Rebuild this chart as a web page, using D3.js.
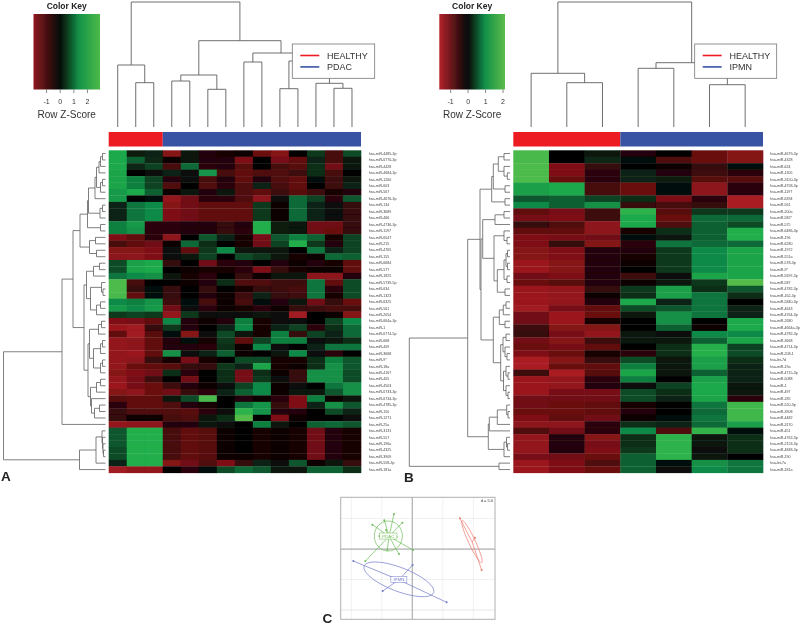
<!DOCTYPE html>
<html>
<head>
<meta charset="utf-8">
<style>
  html, body { margin: 0; padding: 0; background: #fff; }
  svg { display: block; font-family: "Liberation Sans", Arial, sans-serif; }
</style>
<script src="https://cdn.jsdelivr.net/npm/d3@7"></script>
</head>
<body>
<script>
// row labels, top to bottom
var labelsA = ['hsa-miR-4485-3p','hsa-miR-6770-3p','hsa-miR-4428','hsa-miR-4684-3p','hsa-miR-1260','hsa-miR-603','hsa-miR-567','hsa-miR-4676-3p','hsa-miR-134','hsa-miR-3689','hsa-miR-466','hsa-miR-4736-3p','hsa-miR-1197','hsa-miR-6547','hsa-miR-215','hsa-miR-4765','hsa-miR-155','hsa-miR-6684','hsa-miR-577','hsa-miR-1825','hsa-miR-5739-5p','hsa-miR-634','hsa-miR-1323','hsa-miR-6325','hsa-miR-561','hsa-miR-2054','hsa-miR-664a-3p','hsa-miR-1','hsa-miR-6774-5p','hsa-miR-668','hsa-miR-409','hsa-miR-3668','hsa-miR-9*','hsa-miR-18a','hsa-miR-4167','hsa-miR-405','hsa-miR-4503','hsa-miR-6733-3p','hsa-miR-6734-3p','hsa-miR-4785-3p','hsa-miR-150','hsa-miR-1271','hsa-miR-25a','hsa-miR-3131','hsa-miR-557','hsa-miR-196a','hsa-miR-4325','hsa-miR-3909','hsa-miR-558-3p','hsa-miR-181a'];
var labelsB = ['hsa-miR-4679-3p','hsa-miR-4328','hsa-miR-624','hsa-miR-1305','hsa-miR-3150-3p','hsa-miR-4758-3p','hsa-miR-1197','hsa-miR-6394','hsa-miR-561','hsa-miR-200a','hsa-miR-582*','hsa-miR-575','hsa-miR-6486-3p','hsa-miR-196','hsa-miR-6280','hsa-miR-1972','hsa-miR-551a','hsa-miR-578-3p','hsa-miR-9*','hsa-miR-5697-3p','hsa-miR-587','hsa-miR-4782-3p','hsa-miR-162-3p','hsa-miR-5840-3p','hsa-miR-4643','hsa-miR-4764-3p','hsa-miR-2680','hsa-miR-4664a-3p','hsa-miR-4782-3p','hsa-miR-3668','hsa-miR-4714-3p','hsa-miR-208-1','hsa-let-7d','hsa-miR-19a','hsa-miR-4715-3p','hsa-miR-5088','hsa-miR-1','hsa-miR-497','hsa-miR-185','hsa-miR-520-3p','hsa-miR-3908','hsa-miR-4482','hsa-miR-3170','hsa-miR-451','hsa-miR-4762-3p','hsa-miR-2153-3p','hsa-miR-4848-3p','hsa-miR-190','hsa-let-7a','hsa-miR-181a'];

// row z-scores
var heatA = [
  [1.9,.25,.3,-1.5,.2,-.3,-.2,-.1,-1.1,-1.5,0,.5,-.7,.7],
  [1.9,.9,.35,-.1,.2,-.3,-.3,-1.4,0,-1.3,-1,.3,-.7,.2],
  [1.9,.35,.6,-.7,1,-.4,-.3,-.9,0,-.7,-.9,.4,-1.2,.2],
  [1.8,0,.1,.3,.1,1.5,-.7,-1,-.8,-.8,-.6,.4,-.7,0],
  [1.8,1.2,.6,-.3,.1,-.7,-.3,-1,-.3,-.8,-1,.05,-.6,.2],
  [1.8,1.2,.6,-.8,0,-.8,-.4,-.8,.3,-.7,-1,0,-.6,.3],
  [1.6,1.9,.9,-.05,.2,-.3,.2,-.8,-1,-.6,-.9,-.6,-.2,-.3],
  [1.6,0,.05,-1.7,-1.2,-.4,-.4,-.8,-1.6,.1,1,.6,-.4,.8],
  [.3,1.1,1.3,-1.5,-1.2,-1,-1,-1,.5,-.1,1,.3,.1,-.5],
  [.3,1.1,1.3,-1.4,-1.2,-1,-1,-1,.5,-.1,1,.3,.1,-.5],
  [.3,1.1,1.3,-1.4,-1.2,-1,-1,-1,.5,-.1,1,.3,.1,-.5],
  [1.2,1.6,-.4,-.4,-.3,-.3,-.5,-.3,2,.25,.15,-1.2,-1.2,-.5],
  [1.2,1.4,-.4,-.4,-.3,-.3,-.5,-.4,2,.25,.15,-1.2,-1.1,-.5],
  [-1.4,-1,-.4,-1.6,0,.8,.3,-.2,-1.3,.8,1.2,.9,-.2,.6],
  [-.7,-1,-1.2,-.1,1,.4,0,-.2,-1.2,.6,2,.5,-.3,.6],
  [-1.5,-1.5,-1.4,.1,-1,.5,1.3,.2,.2,.2,0,1.1,.3,.6],
  [-1.6,-1.6,-1.4,.1,.2,.6,0,.7,.5,.2,-.2,-.1,1,.9],
  [.7,1.7,1.9,-.5,0,-1.2,-.4,-.3,0,-.3,-.05,-.3,-.2,-1],
  [.7,1.8,1.9,0,-.1,-.2,-.2,-.4,-1.4,-.5,-.2,-.1,-.1,-1],
  [1.1,1.3,1.4,.2,-.2,-.4,0,-.5,-.1,.2,.2,-1.6,-1.6,-.3],
  [2.7,-.7,0,0,-.1,-.3,.4,-.8,-.8,-.6,-.6,1.1,-1,.7],
  [2.7,-.5,.05,-.5,0,-.5,0,-.2,-.5,-.6,-.7,1.1,-.4,.7],
  [2.6,-1,.05,-.5,0,-.3,-.1,-.6,.3,-.5,-.6,1.1,-.2,.7],
  [1.3,1.2,1.5,-.6,.05,-.7,-.1,-.7,.05,-.3,.2,-1.2,-.5,-1.1],
  [1.6,1.3,1.6,-1.2,.1,-.4,-.1,-.2,-.4,-.1,-.5,-.6,-.7,-.7],
  [.5,.6,.5,-1.7,.5,.1,.1,.1,.2,.1,-1.9,0,-.1,-1.5],
  [-1.4,-1.3,-1,1.3,-.3,-.1,-.3,1.2,-.2,.1,.1,0,.6,1.3],
  [-1.8,-1.9,-.5,.5,-.3,0,.3,1.3,-.2,.3,.6,-.4,.4,1],
  [-1,-1.9,-.9,.05,-1.5,.1,.7,.2,-.2,1.2,-.5,.6,.3,1],
  [-1.7,-1.6,-1,-.3,.05,-.2,.5,-1,.6,1.2,1.2,.1,.2,.4],
  [-1.7,-1.6,-1,-.3,-.3,-.4,.4,-.1,1.3,.1,0,.3,1.1,1.1],
  [-1.7,-1.8,-1,1.4,.1,.3,.9,-.1,0,.15,1.3,.1,-.4,0],
  [-1.7,-1.6,-.5,-.2,-1.3,-.2,0,.7,.7,-.2,-.2,.4,1.2,.8],
  [-1.7,-1.1,-1,-.9,-.5,-.5,.5,.3,1.8,-.2,-.1,.4,1.4,.8],
  [-1.5,-1.4,-1.2,.4,-.4,0,.4,-1.3,.4,-.1,-.5,1.4,1.4,.7],
  [-1.7,-1.3,-.6,0,-1.2,0,.4,-1.3,.5,.1,-.5,1.4,1.4,.7],
  [-1.8,-1.3,-1.1,-.6,-.3,-.1,.1,.6,1.3,-.05,.1,0,1.1,1.4],
  [-1.5,-1.6,-1.1,-1.2,-.5,-.4,.3,.9,1.3,-.05,.15,.2,.8,1.4],
  [-.9,-1,-1,.2,.7,2.6,0,-.3,-.05,-.4,-1.4,1.2,-.1,.2],
  [-.4,-1,-1,-.8,-.3,-.2,0,1.1,1.5,-.5,-1.4,.3,1.4,.8],
  [-.5,-.8,-.8,-.8,-.9,-.4,.1,2.2,1.5,-.3,-.3,0,.7,.3],
  [-.5,-.05,-.1,-.7,-.8,.2,.4,2.8,0,-1.4,-.05,0,0,.1],
  [-1.7,-1.6,-1.6,-.3,-.3,.2,.1,0,1.2,.2,0,.9,1,.8],
  [.8,2,2,-.7,-1,-.9,-.05,0,-.2,-.1,-.2,-1.2,-.3,-.2],
  [.8,2,2,-.7,-1,-.9,-.05,0,-.2,-.1,-.2,-1.2,-.3,-.2],
  [.8,2,2,-.7,-1,-.9,-.05,0,-.2,-.1,-.2,-1.2,-.3,-.2],
  [.7,2,2,-.7,-1,-.9,-.05,0,-.2,-.1,-.2,-1.2,-.3,-.2],
  [.7,2,2,-.7,-1,-.9,-.1,-.05,-.2,-.1,-.2,-1.2,-.3,-.2],
  [.3,2,2,-1.5,-1.2,-.8,-1.4,-.5,.3,.1,.8,-.1,.2,-.5],
  [-1.9,-1.7,-1.7,0,-.4,.05,.7,1,.8,.2,.2,.9,.9,.4]
];
var heatB = [
  [2.6,0,.2,-.3,0,-1.1,-1.5],
  [2.6,0,.35,.05,-.8,-1.1,-1.5],
  [2.7,-1.4,-.5,0,-.05,-.5,.05],
  [2.7,-1.4,-.4,.3,-.3,-.6,-.4],
  [2.7,-1.1,-.4,.3,.25,-.9,-.9],
  [1.7,1.9,-.7,-1.1,.05,-1.6,-.4],
  [1.7,1.9,-.7,-1.1,.05,-1.6,-.4],
  [.8,.9,.6,.4,-1.4,-.4,-2],
  [1.3,.9,1.4,-.5,-.7,-.5,-2],
  [-1,-1.3,-.6,2.2,-.9,.5,.5],
  [-1.3,-1.4,-.6,1.9,-1.1,1,1],
  [-.5,-.8,-1.6,1.9,-.8,.9,.7],
  [-1,-1,-1.6,-.2,.4,.9,2],
  [-1.4,-1.3,-1.2,.05,.2,.9,2],
  [-1.4,-.5,-1.5,-.4,1.1,1,1],
  [-1.5,-1.4,-.3,-.3,.5,1.3,1.8],
  [-1.5,-1.4,-.3,-.2,.5,1.3,1.8],
  [-1.8,-1.5,-.3,-.05,.5,1.3,1.8],
  [-1.8,-1.5,-.3,0,.5,1.3,1.8],
  [-1.2,-1.4,-.3,-.6,.1,1.8,1.8],
  [-1.1,-.9,-.3,-.05,.2,.5,2.8],
  [-1.8,-1.7,-.5,.5,1.7,.4,.8],
  [-1.8,-1.7,-.1,.4,1.7,1.1,.4],
  [-1.8,-1.7,-.3,1.9,.3,1.1,0],
  [-1.9,-1.3,-1,.7,.8,1.1,.3],
  [-1.2,-1.8,-1.1,.2,1.4,1.1,.3],
  [-1.2,-1.8,-.2,0,1.4,0,1.9],
  [-.6,-1.5,-1.5,0,.9,-.05,1.9],
  [-.5,-1.3,-1.7,.2,.1,1.3,1.3],
  [-1.2,-1.5,-.6,.15,.2,.9,1.8],
  [-1.1,-1.3,-1,0,.4,2.1,.6],
  [-1.4,-1.1,-.2,-.4,.4,2.1,.7],
  [-2,-1.5,-.5,.7,.2,1.7,.4],
  [-2,-1.1,-1,1.2,.2,1.7,.3],
  [-.6,-2.2,-.9,1.8,.2,.9,.3],
  [-1.8,-1.7,-.4,1.2,0,1.7,.3],
  [-1.8,-1.7,-.3,.1,.6,1.9,.15],
  [-1.8,-1.3,-1.3,.7,.4,1.9,.2],
  [-1.2,-1.2,-1.2,.7,.3,1.8,-.4],
  [-1.2,-1.1,-1,-.2,0,1.1,2.5],
  [-1.1,-1.1,-1,-.3,0,1,2.5],
  [-1.4,-1,-1.2,-.05,.05,1.1,2.5],
  [-1.6,-1.6,-.4,.4,.3,1,1.7],
  [-.8,-1.2,-.4,1.3,-.8,2.3,.05],
  [-1.7,-.3,-1.5,.4,2.2,.2,.4],
  [-1.7,-.3,-1.3,.4,2.2,.15,.4],
  [-1.7,-.3,-1.4,.5,2.2,.1,.4],
  [-1.3,-1.2,-1.1,.9,2.2,.2,0],
  [-1.8,-1.4,-.8,.9,.05,1.4,1.1],
  [-1.8,-1.4,-1.1,.9,.1,1.3,1.1]
];

// column groups
var groupsA = ['HEALTHY','HEALTHY','HEALTHY','PDAC','PDAC','PDAC','PDAC','PDAC','PDAC','PDAC','PDAC','PDAC','PDAC','PDAC'];
var groupsB = ['HEALTHY','HEALTHY','HEALTHY','IPMN','IPMN','IPMN','IPMN'];

// dendrograms: [height, left, right], 0 is a leaf, leaves are in display order
var colTreeA = [125,
  [62,0,[44.3,0,0]],
  [86.3,
    [52,[46,0,0],[37.7,0,0]],
    [74,[65,0,0],[66,[38.3,0,0],[43.7,0,[38.7,0,0]]]]]];
var colTreeB = [125,[53.7,0,[44.3,0,0]],[64.3,[58.7,0,0],[42.3,0,0]]];
var rowTreeA = [102,
  [43.5,
    [32.5,
      [25.5,
        [18,
          [17,
            [10.5,[9,[6.5,[5,[3,0,0],0],0],[5,[3,0,0],0]],0],
            [5.5,[3,0,0],0]],
          [5,0,0]],
        [16,[10,0,0],[9,0,0]]],
      [21.5,
        [19,
          [12,[6,0,0],0],
          [15,[4,0,[2.5,0,0]],[9,[5,0,0],0]]],
        [17.5,
          [16,[7,[4,0,0],0],[12,[5,[3,0,0],0],[5,[3,0,0],0]]],
          [15,[9,[5,0,0],0],[14,0,[11,[6,0,0],0]]]]]],
    0],
  [26,[9.5,[3.5,0,[3,0,[2.5,0,[2,0,0]]]],0],0]];
var rowTreeB = [100.7,
  [42.3,
    [30,
      [18.3,[16.7,[11.7,[6,0,0],[6,0,[2.7,0,0]]],[5,0,0]],[5,0,0]],
      [29,
        [27.3,
          [15,[6,0,0],0],
          [16,
            [6,0,[3,0,0]],
            [12.7,[6,[4,[2.5,0,0],[2.5,0,0]],[3,0,0]],[5,0,0]]]],
        [16.7,
          [10.7,[6.7,[4,0,0],0],[5,0,0]],
          [9.3,
            [7,[4,0,0],[5,0,[3,0,0]]],
            [6.5,[4,0,[2,0,0]],[4,0,[2,0,0]]]]]]],
    [21.7,
      [20.7,[12.7,[3.3,0,[2,0,0]],0],0],
      [6,[3.5,0,[2.5,0,0]],0]]],
  [11,0,0]];

var keyTicks = [-1, 0, 1, 2];

// ordination scores for panel C, one [x, y] per sample
var pcaPdac = [[-3,5.74],[-6.56,4],[-1.64,4.31],[-4.59,4.7],[.11,-.16],[-2.19,-.82],[-7.7,-1.97],[-4.1,-.16],[-5.4,2.13],[-2.57,2.02],[-4.3,3.1]];
var pcaIpmn = [[-9.67,-1.97],[.05,-2.62],[-4.86,-6.89],[5.63,-8.74]];
var pcaHealthy = [[7.81,5.03],[10.27,1.86],[11.37,-3.44]];
var pcaGrid = [-10, -5, 0, 5];

var RED = '#ed1c24', BLUE = '#3953a4';
var LINE = '#5f5f5f';

var svg = d3.select('body').append('svg').attr('width', 800).attr('height', 625);
var defs = svg.append('defs');
defs.append('filter').attr('id', 'soft')
  .attr('filterUnits', 'userSpaceOnUse').attr('x', 0).attr('y', 0).attr('width', 800).attr('height', 625)
  .append('feGaussianBlur').attr('stdDeviation', 0.6);

var page = svg.append('g').attr('filter', 'url(#soft)');

var cellColor = d3.scaleLinear()
  .domain([-2, -1, 0, 1.3, 2, 3])
  .range(['#a81c22', '#620a0e', '#060404', '#118a46', '#20ae4c', '#62c04a'])
  .clamp(true);

function drawTree(g, tree, leafPos, heightPos, horizontal) {
  var root = d3.hierarchy(tree, function (d) { return Array.isArray(d) ? d.slice(1) : null; });
  root.leaves().forEach(function (leaf, i) { leaf.pos = leafPos(i); });
  root.eachAfter(function (n) {
    if (n.children) {
      n.pos = (n.children[0].pos + n.children[1].pos) / 2;
    }
    n.h = n.children ? n.data[0] : 0;
  });
  var p = d3.path();
  function pt(h, pos, start) {
    var a = horizontal ? heightPos(h) : pos;
    var b = horizontal ? pos : heightPos(h);
    if (start) { p.moveTo(a, b); } else { p.lineTo(a, b); }
  }
  root.descendants().forEach(function (n) {
    if (!n.children) { return; }
    var l = n.children[0], r = n.children[1];
    pt(l.h, l.pos, true);
    pt(n.h, l.pos);
    pt(n.h, r.pos);
    pt(r.h, r.pos);
  });
  g.append('path').attr('d', p.toString())
    .attr('fill', 'none').attr('stroke', LINE).attr('stroke-width', horizontal ? 0.8 : 0.9);
}

function drawKey(cfg) {
  var g = page.append('g');
  var x = d3.scaleLinear().domain(cfg.domain).range(cfg.range);
  var color = d3.scaleLinear().domain(cfg.stops).range(cfg.colors);
  var grad = defs.append('linearGradient').attr('id', cfg.id);
  d3.range(0, 1.001, 0.05).forEach(function (t) {
    var v = cfg.domain[0] + t * (cfg.domain[1] - cfg.domain[0]);
    grad.append('stop').attr('offset', t).attr('stop-color', color(v));
  });
  g.append('rect').attr('x', cfg.range[0]).attr('y', 14)
    .attr('width', cfg.range[1] - cfg.range[0]).attr('height', 75.5)
    .attr('fill', 'url(#' + cfg.id + ')');
  var axis = d3.axisBottom(x).tickValues(keyTicks).tickSize(3.5).tickPadding(6).tickFormat(d3.format('d'));
  var ax = g.append('g').attr('transform', 'translate(0,89.5)').call(axis);
  ax.select('.domain').remove();
  ax.selectAll('line').attr('stroke', '#555').attr('stroke-width', 0.7);
  ax.selectAll('text').attr('font-size', 7).attr('font-family', '"Liberation Sans", Arial, sans-serif')
    .attr('fill', '#333').text(function (d) { return d < 0 ? '-' + Math.abs(d) : d; });
  var cx = (cfg.range[0] + cfg.range[1]) / 2;
  g.append('text').attr('x', cx).attr('y', 9).attr('text-anchor', 'middle')
    .attr('font-size', 8.5).attr('font-weight', 'bold').attr('fill', '#222').text('Color Key');
  g.append('text').attr('x', cx).attr('y', 117.5).attr('text-anchor', 'middle')
    .attr('font-size', 10).attr('fill', '#333').text('Row Z-Score');
}

function drawHeat(cfg) {
  var g = page.append('g');
  var x = d3.scaleBand().domain(d3.range(cfg.values[0].length)).range(cfg.xRange);
  var y = d3.scaleBand().domain(d3.range(cfg.values.length)).range([150.3, 472.8]);

  var rows = g.selectAll('g.row').data(cfg.values).enter().append('g').attr('class', 'row');
  rows.selectAll('rect').data(function (d, i) {
    return d.map(function (v, j) { return { v: v, r: i, c: j }; });
  }).enter().append('rect')
    .attr('x', function (d) { return x(d.c); })
    .attr('y', function (d) { return y(d.r); })
    .attr('width', x.bandwidth() + 0.3)
    .attr('height', y.bandwidth() + 0.3)
    .attr('fill', function (d) { return cellColor(d.v); });

  // sample colour bar, one block per group
  var runs = Array.from(d3.group(cfg.groups.map(function (d, i) { return { g: d, i: i }; }), function (d) { return d.g; }).values());
  g.selectAll('rect.side').data(runs).enter().append('rect').attr('class', 'side')
    .attr('x', function (d) { return x(d[0].i); })
    .attr('y', 132)
    .attr('width', function (d) { return x.bandwidth() * d.length; })
    .attr('height', 14.5)
    .attr('fill', function (d) { return d[0].g === 'HEALTHY' ? RED : BLUE; });

  g.selectAll('text.lab').data(cfg.labels).enter().append('text').attr('class', 'lab')
    .attr('x', cfg.xRange[1] + cfg.labelGap)
    .attr('y', function (d, i) { return y(i) + y.bandwidth() / 2 + 1.2; })
    .attr('font-size', 3.6).attr('fill', '#444').text(function (d) { return d; });

  drawTree(g, cfg.colTree,
    function (i) { return x(i) + x.bandwidth() / 2; },
    d3.scaleLinear().domain([0, 125]).range([127, 2]), false);
  drawTree(g, cfg.rowTree,
    function (i) { return y(i) + y.bandwidth() / 2; },
    d3.scaleLinear().domain(cfg.rowHeight).range(cfg.rowX), true);

  // legend sits on top of the dendrogram
  var leg = g.append('g').attr('transform', 'translate(' + cfg.legendX + ',44)');
  leg.append('rect').attr('width', cfg.legendW).attr('height', 34.3)
    .attr('fill', '#fff').attr('stroke', '#777').attr('stroke-width', 0.8);
  cfg.legend.forEach(function (name, i) {
    var ly = 11.5 + i * 11.4;
    leg.append('line').attr('x1', 8).attr('x2', 27).attr('y1', ly).attr('y2', ly)
      .attr('stroke', i === 0 ? RED : BLUE).attr('stroke-width', 1.6);
    leg.append('text').attr('x', 34.7).attr('y', ly + 3.4)
      .attr('font-size', 9).attr('fill', '#333').text(name);
  });
}

drawKey({ id: 'keyA', domain: [-1.92, 2.95], range: [33.5, 100],
  stops: [-1.92, 0, 1.4, 2.95], colors: ['#8e1a1e', '#050505', '#14934a', '#4cba48'] });
drawKey({ id: 'keyB', domain: [-1.62, 2.14], range: [439.3, 505],
  stops: [-1.62, 0, 1, 2.14], colors: ['#b3232b', '#050505', '#12904a', '#5cbc48'] });

drawHeat({ values: heatA, labels: labelsA, groups: groupsA, xRange: [108.7, 361], labelGap: 7.7,
  colTree: colTreeA, rowTree: rowTreeA, rowHeight: [0, 102], rowX: [105.5, 3.5],
  legendX: 292.3, legendW: 82.4, legend: ['HEALTHY', 'PDAC'] });
drawHeat({ values: heatB, labels: labelsB, groups: groupsB, xRange: [513.3, 763], labelGap: 7,
  colTree: colTreeB, rowTree: rowTreeB, rowHeight: [0, 100.7], rowX: [510, 409.3],
  legendX: 694.7, legendW: 82, legend: ['HEALTHY', 'IPMN'] });

// panel C: ordination plot
function drawPca() {
  var g = page.append('g');
  var x = d3.scaleLinear().domain([-11.74, 13.56]).range([340.7, 495]);
  var y = d3.scaleLinear().domain([-11.52, 8.48]).range([619.3, 497.3]);

  pcaGrid.concat([10]).forEach(function (v) {
    g.append('line').attr('x1', x(v)).attr('x2', x(v)).attr('y1', y.range()[0]).attr('y2', y.range()[1])
      .attr('stroke', '#e8e8e8').attr('stroke-width', 0.6);
  });
  pcaGrid.concat([-10]).forEach(function (v) {
    g.append('line').attr('y1', y(v)).attr('y2', y(v)).attr('x1', x.range()[0]).attr('x2', x.range()[1])
      .attr('stroke', '#e8e8e8').attr('stroke-width', 0.6);
  });
  g.append('line').attr('x1', x(0)).attr('x2', x(0)).attr('y1', y.range()[0]).attr('y2', y.range()[1])
    .attr('stroke', '#b0b0b0').attr('stroke-width', 1.2);
  g.append('line').attr('y1', y(0)).attr('y2', y(0)).attr('x1', x.range()[0]).attr('x2', x.range()[1])
    .attr('stroke', '#b0b0b0').attr('stroke-width', 1.2);
  g.append('rect').attr('x', x.range()[0]).attr('y', y.range()[1])
    .attr('width', x.range()[1] - x.range()[0]).attr('height', y.range()[0] - y.range()[1])
    .attr('fill', 'none').attr('stroke', '#b0b0b0').attr('stroke-width', 1);

  g.append('text').attr('x', x.range()[1] - 2).attr('y', y.range()[1] + 4.5)
    .attr('text-anchor', 'end').attr('font-size', 4).attr('fill', '#333').text('d = 5.0');

  var line = d3.line().x(function (d) { return x(d[0]); }).y(function (d) { return y(d[1]); });

  function group(points, name, color, ell) {
    var cx = d3.mean(points, function (d) { return d[0]; });
    var cy = d3.mean(points, function (d) { return d[1]; });
    var gg = g.append('g');
    points.forEach(function (d) {
      gg.append('path').attr('d', line([[cx, cy], d])).attr('stroke', color).attr('stroke-width', 0.7).attr('fill', 'none');
    });
    gg.selectAll('circle').data(points).enter().append('circle')
      .attr('cx', function (d) { return x(d[0]); })
      .attr('cy', function (d) { return y(d[1]); })
      .attr('r', 1).attr('fill', color);
    var rot = ell.angle * Math.PI / 180;
    var outline = d3.range(0, 361, 6).map(function (deg) {
      var t = deg * Math.PI / 180;
      var ex = ell.a * Math.cos(t), ey = ell.b * Math.sin(t);
      return [ell.cx + ex * Math.cos(rot) - ey * Math.sin(rot), ell.cy + ex * Math.sin(rot) + ey * Math.cos(rot)];
    });
    gg.append('path').attr('d', line(outline)).attr('fill', 'none').attr('stroke', color).attr('stroke-width', 0.7);
    if (name) {
      var lab = gg.append('g');
      var txt = lab.append('text').attr('x', x(ell.cx)).attr('y', y(ell.cy) + 1.5)
        .attr('text-anchor', 'middle').attr('font-size', 4.4).attr('fill', color).text(name);
      var bb = txt.node().getBBox();
      lab.insert('rect', 'text').attr('x', bb.x - 2.5).attr('y', bb.y - 0.5)
        .attr('width', bb.width + 5).attr('height', bb.height + 1)
        .attr('fill', '#fff').attr('stroke', color).attr('stroke-width', 0.5);
    }
  }

  group(pcaPdac, 'PDAC', '#6dbb57', { cx: -3.93, cy: 2.13, a: 2.46, b: 2.3, angle: 90 });
  group(pcaIpmn, 'IPMN', '#6f79c8', { cx: -2.2, cy: -4.97, a: 6.1, b: 1.95, angle: -21 });
  group(pcaHealthy, null, '#f0796c', { cx: 9.78, cy: 1.2, a: 3.8, b: 0.55, angle: -65 });
}
drawPca();

// panel letters
[['A', 1, 481], ['B', 404, 482], ['C', 322.5, 623]].forEach(function (d) {
  page.append('text').attr('x', d[1]).attr('y', d[2])
    .attr('font-size', 13.5).attr('font-weight', 'bold').attr('fill', '#222').text(d[0]);
});
</script>
</body>
</html>
